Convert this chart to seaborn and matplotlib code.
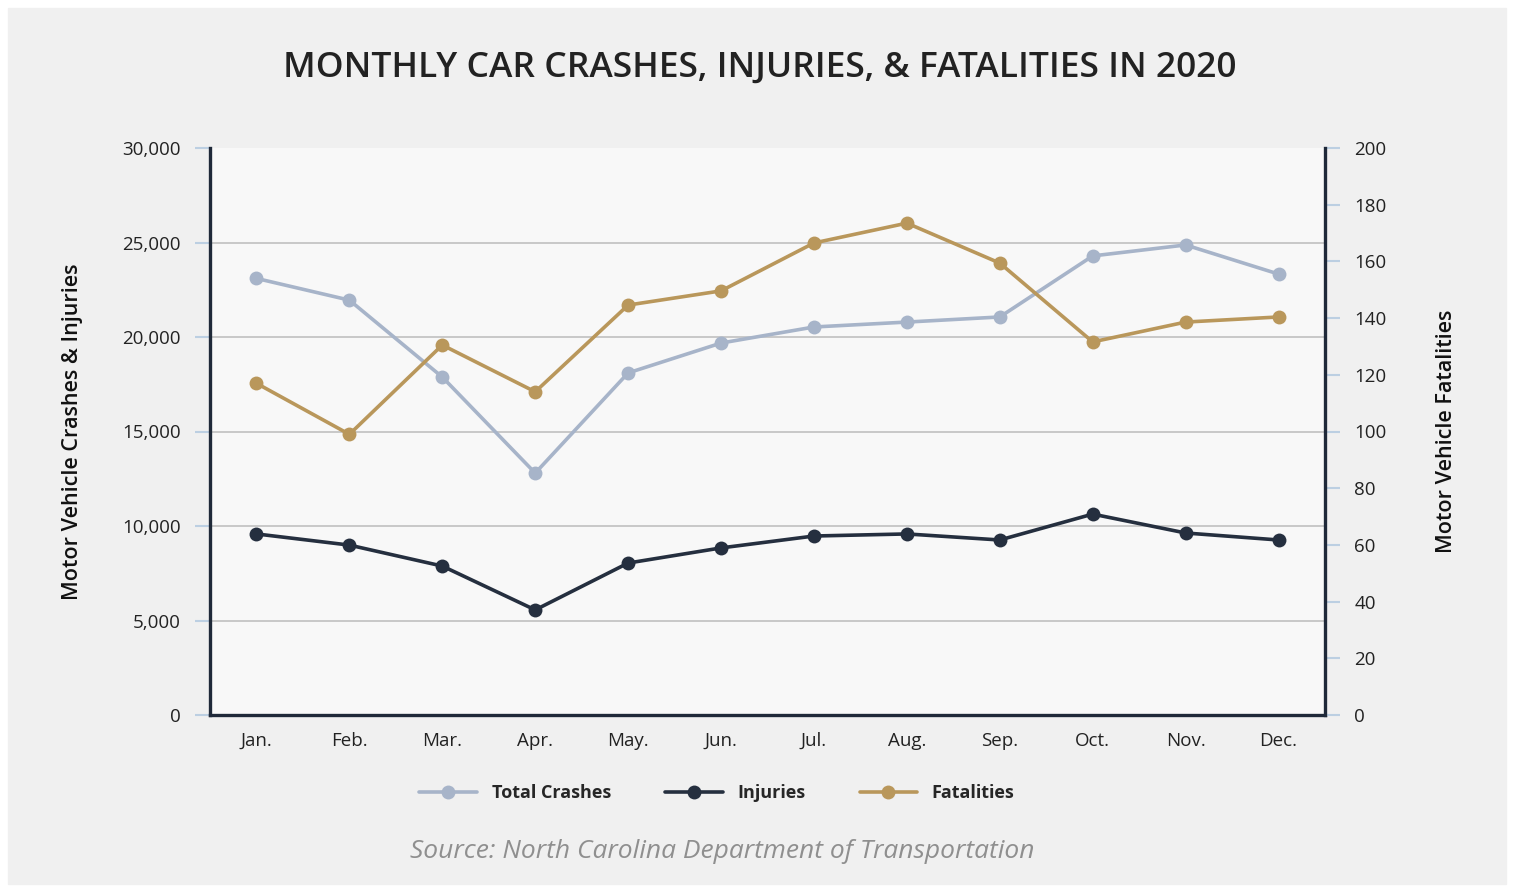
import pandas as pd
import seaborn as sns
import matplotlib.pyplot as plt
from matplotlib.patches import Rectangle
from matplotlib.ticker import FuncFormatter

# 数据
months = ["Jan.", "Feb.", "Mar.", "Apr.", "May.", "Jun.", "Jul.", "Aug.", "Sep.", "Oct.", "Nov.", "Dec."]
total_crashes = [23100, 21950, 17880, 12800, 18100, 19680, 20530, 20790, 21060, 24290, 24870, 23330]
injuries = [9580, 8990, 7880, 5560, 8040, 8840, 9470, 9580, 9260, 10630, 9630, 9260]
fatalities = [117, 99, 130.5, 114, 144.6, 149.6, 166.5, 173.5, 159.4, 131.6, 138.6, 140.4]

c_crash = "#a7b4c9"
c_inj = "#252f3f"
c_fat = "#b9975b"
c_spine = "#1f2939"
c_tick = "#bccfe2"

sns.set_theme(style="white")
plt.rcParams["font.family"] = ["Open Sans", "DejaVu Sans"]

df = pd.DataFrame({"month": months, "Total Crashes": total_crashes,
                   "Injuries": injuries, "Fatalities": fatalities})

fig = plt.figure(figsize=(15.14, 8.92), dpi=100)
fig.patch.set_facecolor("white")
fig.patches.append(Rectangle((8 / 1514, 8 / 892), 1498 / 1514, 876 / 892,
                             transform=fig.transFigure, color="#f0f0f0", zorder=-10))

ax = fig.add_axes([210 / 1514, 1 - 715 / 892, 1115 / 1514, 567 / 892])
ax.set_facecolor("#f8f8f8")
ax2 = ax.twinx()

line_kw = dict(marker="o", markersize=10, linewidth=2.6, markeredgewidth=0, sort=False)
sns.lineplot(data=df, x="month", y="Total Crashes", ax=ax, color=c_crash, label="Total Crashes", **line_kw)
sns.lineplot(data=df, x="month", y="Injuries", ax=ax, color=c_inj, label="Injuries", **line_kw)
sns.lineplot(data=df, x="month", y="Fatalities", ax=ax2, color=c_fat, label="Fatalities", **line_kw)

ax.set_xlim(-0.5, 11.5)
ax.set_ylim(0, 30000)
ax2.set_ylim(0, 200)
ax.set_yticks(range(0, 30001, 5000))
ax2.set_yticks(range(0, 201, 20))
ax.yaxis.set_major_formatter(FuncFormatter(lambda v, p: f"{int(v):,}"))

# 网格线
for v in range(5000, 30000, 5000):
    ax.axhline(v, color="#c4c4c4", lw=1.3, zorder=0)

for a in (ax, ax2):
    a.spines["top"].set_visible(False)
    for s in ("left", "right", "bottom"):
        a.spines[s].set_color(c_spine)
        a.spines[s].set_linewidth(2.4)
ax.spines["right"].set_visible(False)
ax2.spines["left"].set_visible(False)
ax2.spines["bottom"].set_visible(False)

ax.tick_params(axis="y", direction="out", length=11, width=1.5, color=c_tick,
               labelsize=13.5, labelcolor="#222222", pad=10, left=True)
ax2.tick_params(axis="y", direction="out", length=11, width=1.5, color=c_tick,
                labelsize=13.5, labelcolor="#222222", pad=10, right=True)
ax.tick_params(axis="x", length=0, labelsize=13.5, labelcolor="#222222", pad=12)

ax.set_xlabel("")
ax.set_ylabel("Motor Vehicle Crashes & Injuries", fontsize=15.5, fontweight="semibold",
              color="#111111", labelpad=28)
ax2.set_ylabel("Motor Vehicle Fatalities", fontsize=15.5, fontweight="semibold",
               color="#111111", labelpad=36)

# 图例
h1, l1 = ax.get_legend_handles_labels()
h2, l2 = ax2.get_legend_handles_labels()
ax.get_legend().remove()
ax2.get_legend().remove()
fig.legend(h1 + h2, l1 + l2, loc="center", bbox_to_anchor=(717 / 1514, 1 - 793 / 892),
           ncol=3, frameon=False, handlelength=3.2, columnspacing=3.0,
           prop={"weight": "bold", "size": 13})

fig.text(760 / 1514, 1 - 68 / 892, "MONTHLY CAR CRASHES, INJURIES, & FATALITIES IN 2020",
         ha="center", va="center", fontsize=25.5, fontweight="semibold", color="#222222")
fig.text(722 / 1514, 1 - 852 / 892, "Source: North Carolina Department of Transportation",
         ha="center", va="center", fontsize=19, style="italic", color="#8f8f8f")

plt.savefig("out.png", dpi=100, facecolor=fig.get_facecolor())
